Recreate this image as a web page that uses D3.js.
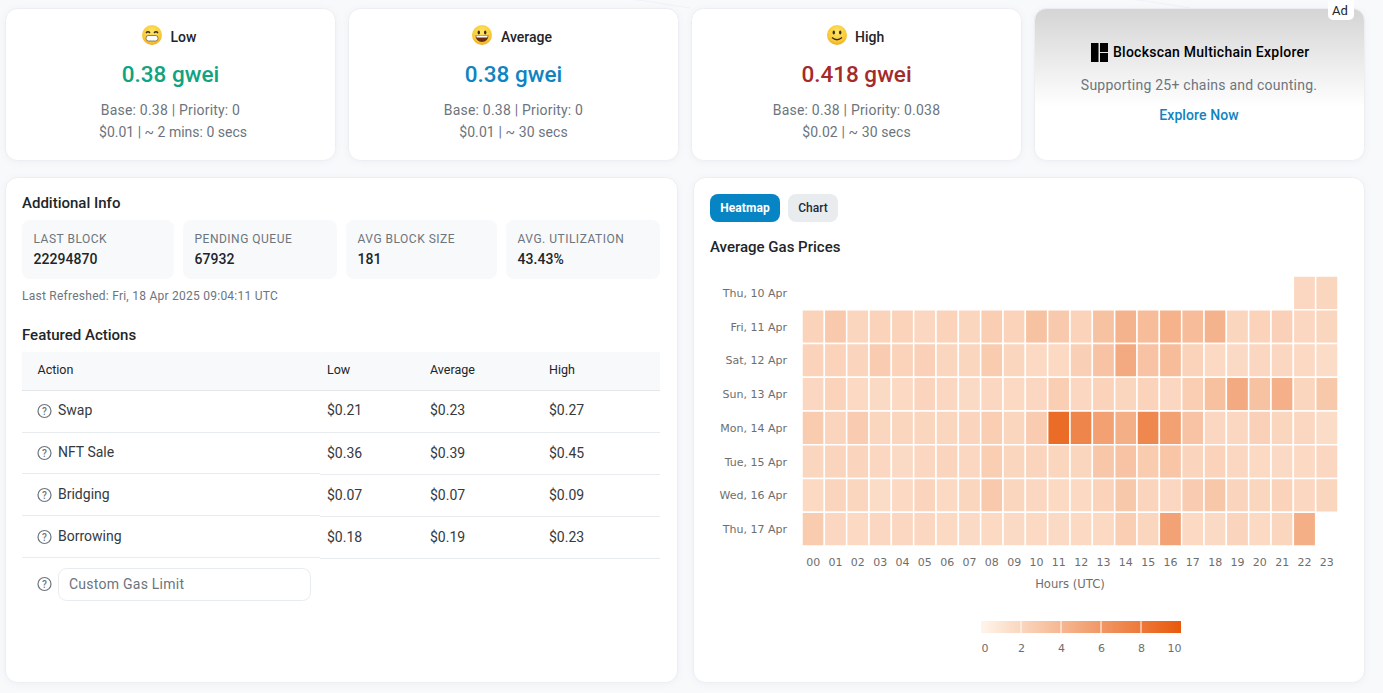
<!DOCTYPE html>
<html><head><meta charset="utf-8">
<script src="https://cdnjs.cloudflare.com/ajax/libs/d3/7.8.5/d3.min.js"></script>
<style>
html,body{margin:0;padding:0;background:#f8f9fb;overflow:hidden}
svg{display:block;font-family:Roboto,sans-serif}
.card{fill:#fff;stroke:#eceef2;stroke-width:1;filter:drop-shadow(0 1px 3px rgba(40,50,80,.05))}
.axis text{font-family:"DejaVu Sans",sans-serif;font-size:11px;fill:#6e6e6e}
.axis .domain,.axis line{display:none}
</style></head><body>
<svg id="c" width="1383" height="693"></svg>
<script>
// ---- data ----
const days=["Thu, 10 Apr","Fri, 11 Apr","Sat, 12 Apr","Sun, 13 Apr","Mon, 14 Apr","Tue, 15 Apr","Wed, 16 Apr","Thu, 17 Apr"];
const hours=["00","01","02","03","04","05","06","07","08","09","10","11","12","13","14","15","16","17","18","19","20","21","22","23"];
const thu10=[null,null,null,null,null,null,null,null,null,null,null,null,null,null,null,null,null,null,null,null,null,null,1.9,2.0];
const fri11=[2.2,2.8,2.0,2.2,2.2,1.9,2.2,2.0,2.5,2.2,3.3,2.8,2.2,3.3,4.2,3.6,4.3,3.6,4.2,2.0,2.2,2.3,1.9,2.0];
const sat12=[2.2,2.2,2.1,2.6,2.2,2.3,2.0,2.0,2.7,2.0,1.8,1.8,2.4,3.2,4.8,3.2,3.6,2.2,1.8,1.7,1.9,1.9,1.8,1.6];
const sun13=[1.9,2.2,1.8,1.7,1.8,2.1,1.9,1.7,1.9,1.8,1.9,2.5,1.9,2.2,2.0,2.2,1.9,2.5,3.4,4.8,3.3,4.4,2.0,2.9];
const mon14=[2.7,2.1,2.6,2.0,2.0,2.0,2.0,2.1,2.5,2.0,2.6,8.8,7.2,5.4,4.5,7.0,5.4,3.2,1.9,1.9,2.3,2.0,1.9,1.6];
const tue15=[2.0,2.1,2.1,1.9,1.7,1.9,2.1,1.9,2.5,2.0,2.1,2.0,2.0,3.0,3.2,2.7,3.1,2.1,2.2,1.9,1.8,1.7,1.8,1.9];
const wed16=[1.8,2.1,2.0,1.6,1.8,2.1,1.8,2.0,2.8,2.0,1.9,1.8,1.8,2.2,2.9,2.1,1.9,2.6,3.0,2.1,2.0,2.2,1.9,2.0];
const thu17=[2.7,1.9,1.8,1.9,1.9,1.9,1.8,1.7,1.8,1.7,1.8,1.7,1.8,1.8,2.5,2.0,5.3,1.8,1.7,2.1,1.8,2.0,4.5,null];
const gasRows=[thu10,fri11,sat12,sun13,mon14,tue15,wed16,thu17];
const legendTicks=[0,2,4,6,8,10];
const speedNames=["Low","Average","High"];
const speedGwei=["0.38 gwei","0.38 gwei","0.418 gwei"];
const speedColors=["#10a37f","#0f84c0","#a52a2a"];
const speedBase=["Base: 0.38 | Priority: 0","Base: 0.38 | Priority: 0","Base: 0.38 | Priority: 0.038"];
const speedCost=["$0.01 | ~ 2 mins: 0 secs","$0.01 | ~ 30 secs","$0.02 | ~ 30 secs"];
const infoLabels=["LAST BLOCK","PENDING QUEUE","AVG BLOCK SIZE","AVG. UTILIZATION"];
const infoValues=["22294870","67932","181","43.43%"];
const tableHead=["Low","Average","High"];
const actions=["Swap","NFT Sale","Bridging","Borrowing"];
const actionLow=["$0.21","$0.36","$0.07","$0.18"];
const actionAvg=["$0.23","$0.39","$0.07","$0.19"];
const actionHigh=["$0.27","$0.45","$0.09","$0.23"];

// ---- helpers ----
const svg=d3.select("#c");
const defs=svg.append("defs");
function T(x,y,s,o={}){const t=svg.append("text").attr("x",x).attr("y",y).text(s)
  .attr("font-size",o.size||14).attr("font-weight",o.w||400).attr("fill",o.fill||"#212529")
  .attr("text-anchor",o.a||"start");if(o.ls)t.attr("letter-spacing",o.ls);return t;}
function card(x0,y0,x1,y1,r=12,fill){const c=svg.append("rect").attr("class","card").attr("x",x0-.5).attr("y",y0-.5)
  .attr("width",x1-x0+1).attr("height",y1-y0+1).attr("rx",r);if(fill)c.style("fill",fill);return c;}

// background contours
const bg=svg.append("g").attr("fill","none").attr("stroke","#f0f2f6");
[0,1,2].forEach(i=>bg.append("path").attr("d",`M${180+i*500} -10 Q${300+i*500} 6 ${420+i*500} -6 T${690+i*500} 8`));

// ---- top cards ----
const cx0=[6,349,692];
function face(cx,cy,kind){
  const g=svg.append("g");
  g.append("circle").attr("cx",cx).attr("cy",cy).attr("r",10).attr("fill","url(#emo)");
  if(kind===0){
    g.append("path").attr("d",`M${cx-6} ${cy-2}q2 -2.5 4 0M${cx+2} ${cy-2}q2 -2.5 4 0`).attr("stroke","#3b2a1a").attr("stroke-width",1.3).attr("fill","none");
    g.append("rect").attr("x",cx-6).attr("y",cy+.5).attr("width",12).attr("height",5.5).attr("rx",2.5).attr("fill","#fff").attr("stroke","#6b4a20").attr("stroke-width",.7);
  }else{
    g.selectAll(".e").data([-3.2,3.2]).join("ellipse").attr("cx",d=>cx+d).attr("cy",cy-2.5).attr("rx",1.2).attr("ry",1.9).attr("fill","#3b2a1a");
    if(kind===1){
      g.append("path").attr("d",`M${cx-6.5} ${cy+.5}h13q-.5 6.5 -6.5 6.5t-6.5 -6.5z`).attr("fill","#6b2d12");
      g.append("path").attr("d",`M${cx-5.8} ${cy+.8}h11.6l-.5 1.8h-10.6z`).attr("fill","#fff");
    }else{
      g.append("path").attr("d",`M${cx-5} ${cy+2.5}q5 4.5 10 0`).attr("stroke","#3b2a1a").attr("stroke-width",1.2).attr("fill","none");
    }
  }
}
const lg=defs.append("radialGradient").attr("id","emo").attr("cx","50%").attr("cy","35%").attr("r","70%");
lg.append("stop").attr("offset","0%").attr("stop-color","#fde668");
lg.append("stop").attr("offset","70%").attr("stop-color","#f8c834");
lg.append("stop").attr("offset","100%").attr("stop-color","#ed9f1a");
const costShift=[2.5,0,0],costSpacing=[0,.1,.1];
speedNames.forEach((n,i)=>{
  const x0=cx0[i],mid=x0+164.5;
  card(x0,9,x0+329,160);
  const nameX=[170.5,501,855][i];
  face([152,482,837][i],35,i);
  T(nameX,42,n,{w:500,size:14,fill:"#212529"});
  T(mid,81.5,speedGwei[i],{a:"middle",size:22.5,w:500,fill:speedColors[i]});
  T(mid,115,speedBase[i],{a:"middle",fill:"#6c757d",ls:.2});
  T(mid+costShift[i],137,speedCost[i],{a:"middle",fill:"#6c757d",ls:costSpacing[i]});
});
// ad
const ag=defs.append("linearGradient").attr("id","adg").attr("x1",0).attr("x2",0).attr("y1",0).attr("y2",1);
ag.append("stop").attr("offset","0%").attr("stop-color","#d4d4d4");
ag.append("stop").attr("offset","65%").attr("stop-color","#fff");
card(1035,9,1364,160,12,"url(#adg)");
svg.append("rect").attr("x",1091).attr("y",43).attr("width",7.5).attr("height",19).attr("fill","#000");
svg.append("rect").attr("x",1100).attr("y",43).attr("width",8).attr("height",9).attr("fill","#000");
svg.append("rect").attr("x",1100).attr("y",53).attr("width",8).attr("height",9).attr("fill","#000");
T(1113,57,"Blockscan Multichain Explorer",{w:500,fill:"#000",ls:.25});
T(1199,90,"Supporting 25+ chains and counting.",{a:"middle",fill:"#6c757d",ls:.23});
T(1199,120,"Explore Now",{a:"middle",w:500,fill:"#0f84c0",ls:.1});
svg.append("rect").attr("x",1328).attr("y",-4).attr("width",26).attr("height",24).attr("rx",5).attr("fill","#fff");
T(1340,15,"Ad",{a:"middle",size:13,fill:"#212529"});

// ---- left panel ----
card(6,178,677,682);
T(22,207.5,"Additional Info",{size:15,w:500});
const tileX=[22,183,346,506],tileR=[174,337,497,660];
infoLabels.forEach((l,i)=>{
  svg.append("rect").attr("x",tileX[i]).attr("y",220).attr("width",tileR[i]-tileX[i]).attr("height",59).attr("rx",8).attr("fill","#f8f9fa");
  T(tileX[i]+11.5,243,l,{size:12,fill:"#6c757d",ls:.5});
  T(tileX[i]+11.5,264,infoValues[i],{size:14,w:500,fill:"#212529",ls:.05});
});
T(22,300,"Last Refreshed: Fri, 18 Apr 2025 09:04:11 UTC",{size:12,fill:"#6c757d",ls:.25});
T(22,340,"Featured Actions",{size:15,w:500});
svg.append("rect").attr("x",22).attr("y",352).attr("width",638).attr("height",38).attr("fill","#f8f9fa");
svg.append("line").attr("x1",22).attr("x2",660).attr("y1",390.5).attr("y2",390.5).attr("stroke","#e4e7ea");
const colX=[327,430,549];
T(37.5,374,"Action",{size:12.5});
tableHead.forEach((h,i)=>T(colX[i],374,h,{size:12.5}));
const leftY=[415,457,499,541],rightY=[415,458,500,542],ruleL=[432.5,473.5,515.5,557.5],ruleR=[432.5,474.5,516.5,558.5];
function help(cy){svg.append("circle").attr("cx",44.5).attr("cy",cy).attr("r",6.5).attr("fill","none").attr("stroke","#6c757d").attr("stroke-width",1.2);
  T(44.5,cy+3.5,"?",{a:"middle",size:10,fill:"#6c757d",w:500});}
actions.forEach((a,i)=>{
  help(leftY[i]-4);
  T(58,leftY[i],a,{size:14,fill:"#343a40"});
  [actionLow,actionAvg,actionHigh].forEach((col,j)=>T(colX[j],rightY[i],col[i],{size:14,fill:"#343a40"}));
  svg.append("line").attr("x1",22).attr("x2",320).attr("y1",ruleL[i]).attr("y2",ruleL[i]).attr("stroke","#e9ecef");
  svg.append("line").attr("x1",320).attr("x2",660).attr("y1",ruleR[i]).attr("y2",ruleR[i]).attr("stroke","#e9ecef");
});
help(584);
svg.append("rect").attr("x",58.5).attr("y",568.5).attr("width",252).attr("height",32).attr("rx",8).attr("fill","#fff").attr("stroke","#e9ecef");
T(69,589,"Custom Gas Limit",{size:14,fill:"#6c757d",ls:.25});

// ---- right panel ----
card(694,178,1364,682);
svg.append("rect").attr("x",710).attr("y",194).attr("width",70).attr("height",28).attr("rx",8).attr("fill","#0784c3");
T(745,212,"Heatmap",{a:"middle",size:12,w:700,fill:"#fff",ls:.1});
svg.append("rect").attr("x",788).attr("y",194).attr("width",50).attr("height",28).attr("rx",8).attr("fill","#e9ecef");
T(813,212,"Chart",{a:"middle",size:12,w:500,fill:"#1f2937"});
T(710,252,"Average Gas Prices",{size:15,w:500});

const x=d3.scaleBand().domain(hours).range([802,1338]);
const y=d3.scaleBand().domain(days).range([276,546]);
const color=d3.scaleLinear().domain([0,10]).range(["#fff5eb","#e8590c"]);
const cells=gasRows.flatMap((r,i)=>r.map((v,j)=>({day:days[i],hour:hours[j],v})).filter(d=>d.v!==null));
svg.append("g").selectAll("rect").data(cells).join("rect")
  .attr("x",d=>x(d.hour)).attr("y",d=>y(d.day)).attr("width",x.bandwidth()).attr("height",y.bandwidth())
  .attr("fill",d=>color(d.v)).attr("stroke","#fff").attr("stroke-width",1.5);
svg.append("g").attr("class","axis").attr("transform","translate(792,0.4)").call(d3.axisLeft(y).tickSize(0).tickPadding(5));
svg.append("g").attr("class","axis").attr("transform","translate(0,557)").call(d3.axisBottom(x).tickSize(0).tickPadding(1));
T(1070,588,"Hours (UTC)",{a:"middle",size:11.6,fill:"#6e6e6e"}).style("font-family","DejaVu Sans");

// legend
const lx=d3.scaleLinear().domain([0,10]).range([981,1181]);
const lgd=defs.append("linearGradient").attr("id","lg");
legendTicks.forEach(t=>lgd.append("stop").attr("offset",t/10).attr("stop-color",color(t)));
svg.append("rect").attr("x",lx(0)).attr("y",621).attr("width",lx(10)-lx(0)).attr("height",12).attr("fill","url(#lg)");
svg.append("g").selectAll("line").data(legendTicks.slice(1,-1)).join("line")
  .attr("x1",d=>lx(d)).attr("x2",d=>lx(d)).attr("y1",621).attr("y2",633).attr("stroke","#fff");
svg.append("g").attr("class","axis").attr("transform","translate(0,643)")
  .call(d3.axisBottom(lx).tickValues(legendTicks).tickSize(0).tickPadding(1))
  .call(g=>g.selectAll("text").attr("text-anchor",d=>d===0?"start":d===10?"end":"middle"));
</script></body></html>
